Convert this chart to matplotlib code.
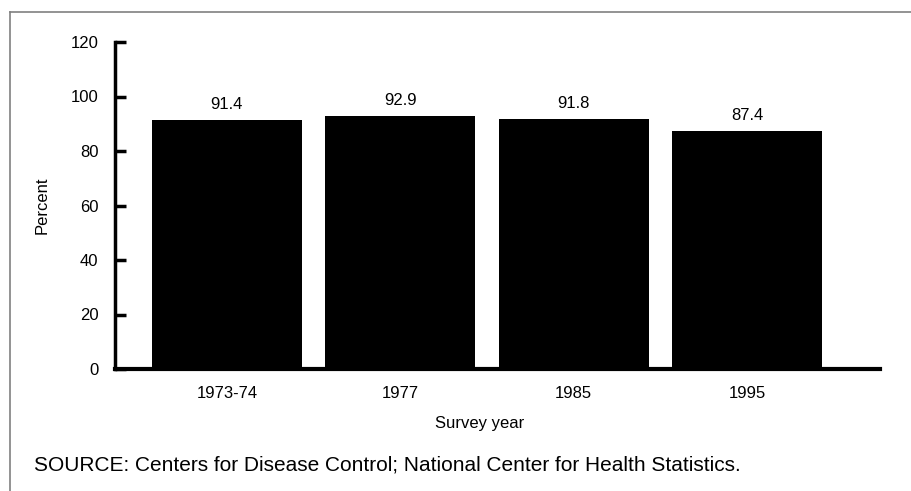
import matplotlib
matplotlib.use("Agg")
import matplotlib.pyplot as plt
from matplotlib.lines import Line2D

plt.rcParams["font.family"] = ["Liberation Sans", "DejaVu Sans"]

# Datos del grafico
anios = ["1973-74", "1977", "1985", "1995"]
porcentajes = [91.4, 92.9, 91.8, 87.4]
ticks_y = [0, 20, 40, 60, 80, 100, 120]

fig = plt.figure(figsize=(9.12, 4.91), dpi=100)
ax = fig.add_axes([115 / 912, 1 - 369 / 491, (880 - 115) / 912, (369 - 42) / 491])

x = list(range(len(anios)))
ax.bar(x, porcentajes, width=0.865, color="black")
for xi, v in zip(x, porcentajes):
    ax.text(xi, v + 3, f"{v}", ha="center", va="bottom", fontsize=12)

ax.set_xlim(-0.645, 3.767)
ax.set_ylim(0, 120)
ax.set_yticks(ticks_y)
ax.set_xticks(x)
ax.set_xticklabels(anios, fontsize=12)
ax.tick_params(axis="y", direction="in", length=8, width=2.5, labelsize=12, pad=12)
ax.tick_params(axis="x", length=0, pad=12)

for lado in ["top", "right"]:
    ax.spines[lado].set_visible(False)
ax.spines["left"].set_linewidth(2.5)
ax.spines["bottom"].set_linewidth(3)

ax.set_ylabel("Percent", fontsize=12, labelpad=15)
ax.set_xlabel("Survey year", fontsize=12)
ax.xaxis.set_label_coords(0.477, -0.145)

# Marco gris (solo arriba e izquierda visibles)
fig.add_artist(Line2D([10 / 912, 10 / 912], [0, 1 - 12 / 491], color="#808080", lw=1.2))
fig.add_artist(Line2D([10 / 912, 1], [1 - 12 / 491, 1 - 12 / 491], color="#808080", lw=1.2))

fig.text(34 / 912, 1 - 465 / 491,
         "SOURCE: Centers for Disease Control; National Center for Health Statistics.",
         fontsize=15, va="center", ha="left")

plt.savefig("out.png", dpi=100)
